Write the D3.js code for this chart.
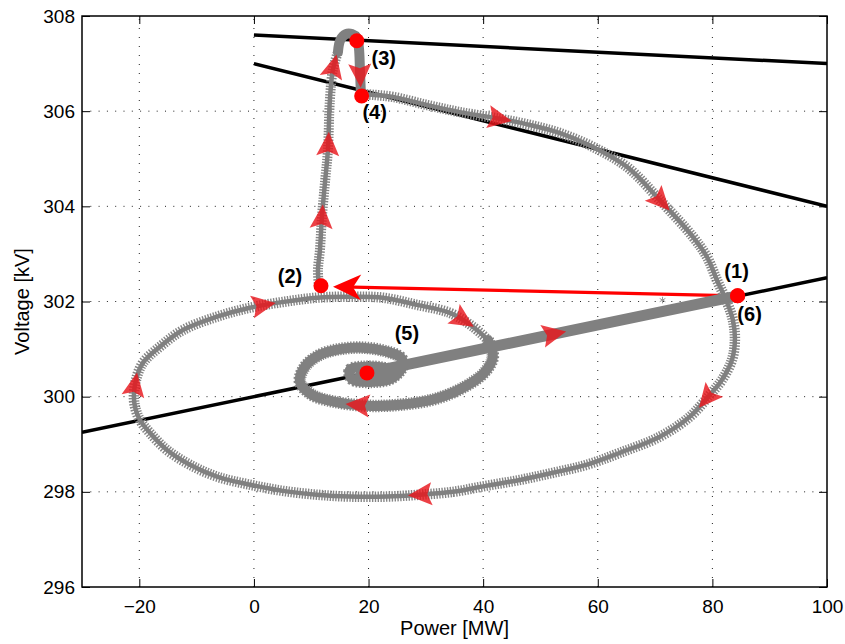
<!DOCTYPE html>
<html>
<head>
<meta charset="utf-8">
<script src="https://cdn.jsdelivr.net/npm/d3@7"></script>
<style>
  body { margin: 0; background: #fff; }
  svg { display: block; }
  text { font-family: "Liberation Sans", Arial, Helvetica, sans-serif; }
</style>
</head>
<body>
<svg id="chart" width="845" height="644"></svg>
<script>
// ---- axis ticks ----
const xTicks = [-20, 0, 20, 40, 60, 80, 100];
const yTicks = [296, 298, 300, 302, 304, 306, 308];

// ---- operating limit lines, [P (MW), V (kV)] ----
const upperLimit = [[0, 307.6], [100, 307.0]];
const lowerLimit = [[0, 307.0], [100, 304.0]];
const droopLine  = [[-30, 299.25], [100, 302.5]];

// ---- trajectory, [P (MW), V (kV)] ----
// (2) -> climb towards (3)
const climb = [
  [11.34, 302.33], [11.17, 302.66], [11.52, 303.08], [11.87, 303.78],
  [12.39, 304.49], [12.91, 305.18], [13.26, 306.24], [13.78, 306.87],
  [14.66, 307.24]
];
// over the top through (3) and down to (4)
const peak = [
  [14.66, 307.24], [15.10, 307.50], [16.05, 307.62], [17.10, 307.62],
  [17.97, 307.54], [18.32, 307.33], [18.50, 306.87], [18.67, 306.36]
];
// (4) -> large clockwise sweep
const sweep = [
  [18.67, 306.36], [21.11, 306.34], [24.25, 306.30], [30.19, 306.13],
  [35.94, 305.98], [42.92, 305.84], [48.16, 305.71], [53.39, 305.54],
  [59.15, 305.25], [65.09, 304.83], [70.84, 304.13], [76.60, 303.36],
  [79.04, 302.94], [80.79, 302.45], [82.53, 301.99], [83.58, 301.61],
  [83.93, 301.19], [83.41, 300.77], [81.66, 300.35], [79.57, 300.04],
  [76.08, 299.58], [70.84, 299.16], [63.86, 298.82], [58.10, 298.57],
  [52.17, 298.40], [46.41, 298.25], [40.66, 298.13], [34.72, 298.00],
  [28.97, 297.94], [23.21, 297.90], [16.75, 297.90], [10.99, 297.94],
  [5.06, 298.02], [-0.70, 298.15], [-6.46, 298.32], [-11.17, 298.57],
  [-15.18, 298.88], [-18.15, 299.24], [-19.89, 299.51], [-20.76, 299.79],
  [-20.94, 300.04], [-20.59, 300.35], [-19.37, 300.71], [-16.40, 301.05],
  [-12.39, 301.40], [-6.46, 301.68], [-0.70, 301.87], [5.06, 301.99],
  [10.99, 302.08], [16.75, 302.10], [22.51, 302.08], [28.44, 301.93],
  [34.20, 301.76], [38.21, 301.47], [40.83, 301.19]
];
// tightening spiral into (5)
const spiral = [
  [40.83, 301.19], [41.70, 300.84], [40.31, 300.52], [36.82, 300.21],
  [31.58, 299.95], [25.48, 299.83], [19.72, 299.81], [14.13, 299.89],
  [10.12, 300.04], [8.03, 300.31], [8.90, 300.63], [11.52, 300.88],
  [15.01, 301.00], [19.02, 301.03], [22.86, 300.96], [25.65, 300.82],
  [26.00, 300.65], [24.08, 300.39], [20.24, 300.31], [17.10, 300.37],
  [16.75, 300.56], [19.37, 300.63], [23.38, 300.58], [24.60, 300.48],
  [21.99, 300.39], [18.50, 300.46], [19.72, 300.50]
];
// (5) -> (6) along the droop line
const settle = [[19.72, 300.50], [84.40, 302.12]];
// single sample during the fast jump (1) -> (2)
const jumpSample = [[71.3, 302.03]];

// ---- jump arrow (1) -> (2) ----
const jump = [[84.40, 302.12], [13.80, 302.31]];

// ---- marked states ----
const stateLabels = ["(1)", "(2)", "(3)", "(4)", "(5)", "(6)"];
const stateP = [84.40, 11.70, 17.95, 18.80, 19.72, 84.40];
const stateV = [302.12, 302.33, 307.48, 306.32, 300.50, 302.12];

// ---- direction arrows along the trajectory ----
const arrowP = [42.92, 70.84, 79.04, 28.97, -20.42, 1.74, 36.82, 18.15, 52.52, 12.04, 13.61, 14.20, 18.50];
const arrowV = [305.92, 304.07, 299.97, 297.98, 300.25, 301.86, 301.66, 299.83, 301.26, 303.78, 305.29, 306.93, 306.76];

// ================= drawing =================
const svg = d3.select("#chart");
const plot = { left: 82, top: 16, right: 827, bottom: 587 };
const x = d3.scaleLinear().domain([-30, 100]).range([plot.left, plot.right]);
const y = d3.scaleLinear().domain([296, 308]).range([plot.bottom, plot.top]);
const pw = plot.right - plot.left, ph = plot.bottom - plot.top;

svg.append("rect").attr("width", 845).attr("height", 644).attr("fill", "#fff");

// dotted grid
const grid = svg.append("g");
grid.selectAll("line.gx").data(xTicks.filter(t => t > -30 && t < 100)).join("line")
  .attr("x1", d => x(d)).attr("x2", d => x(d))
  .attr("y1", plot.bottom).attr("y2", plot.top)
  .attr("stroke", "#222").attr("stroke-width", 1).attr("stroke-dasharray", "1,8");
grid.selectAll("line.gy").data(yTicks.filter(t => t > 296 && t < 308)).join("line")
  .attr("y1", d => y(d)).attr("y2", d => y(d))
  .attr("x1", plot.left).attr("x2", plot.right)
  .attr("stroke", "#222").attr("stroke-width", 1).attr("stroke-dasharray", "1,7.3");

svg.append("clipPath").attr("id", "clip")
  .append("rect").attr("x", plot.left).attr("y", plot.top).attr("width", pw).attr("height", ph);

const content = svg.append("g").attr("clip-path", "url(#clip)");

const straight = d3.line().x(d => x(d[0])).y(d => y(d[1]));
const smooth = d3.line().x(d => x(d[0])).y(d => y(d[1])).curve(d3.curveCatmullRom.alpha(0.5));

// limit lines
[upperLimit, lowerLimit, droopLine].forEach(seg => {
  content.append("path").attr("d", straight(seg))
    .attr("fill", "none").attr("stroke", "#000").attr("stroke-width", 3.5);
});

// jump line (under the trajectory)
const jx0 = x(jump[0][0]), jy0 = y(jump[0][1]);
const jx1 = x(jump[1][0]), jy1 = y(jump[1][1]);
const jAng = Math.atan2(jy1 - jy0, jx1 - jx0);
const headLen = 28;
content.append("line")
  .attr("x1", jx0).attr("y1", jy0)
  .attr("x2", jx1 - Math.cos(jAng) * (headLen - 8)).attr("y2", jy1 - Math.sin(jAng) * (headLen - 8))
  .attr("stroke", "#ff0000").attr("stroke-width", 3.2);

// trajectory: sparse parts show asterisk-like teeth, dense parts are solid
const gray = "#808080";
const pieces = [];
function drawPiece(data, core, teeth) {
  if (teeth > 0) {
    content.append("path").attr("d", smooth(data)).attr("fill", "none")
      .attr("stroke", "#858585").attr("stroke-width", teeth)
      .attr("stroke-dasharray", "1.4,1.4");
  }
  const p = content.append("path").attr("d", smooth(data)).attr("fill", "none")
    .attr("stroke", gray).attr("stroke-width", core)
    .attr("stroke-linejoin", "round").attr("stroke-linecap", "round");
  pieces.push(p.node());
}
drawPiece(climb, 4.5, 10);
drawPiece(sweep, 4.5, 10.5);
drawPiece(spiral, 10, 12.5);
drawPiece(peak, 10, 0);
drawPiece(settle, 11, 0);

// lone sample on the jump
content.selectAll("path.sample").data(jumpSample).join("path")
  .attr("transform", d => `translate(${x(d[0])},${y(d[1])})`)
  .attr("d", d3.symbol(d3.symbolAsterisk, 30)())
  .attr("fill", "none").attr("stroke", "#999").attr("stroke-width", 1);

// direction arrows: snapped to the trajectory and aligned with its tangent
function nearestOnPath(px, py) {
  let best = null;
  pieces.forEach(node => {
    const L = node.getTotalLength();
    for (let l = 0; l <= L; l += 1) {
      const pt = node.getPointAtLength(l);
      const dd = (pt.x - px) ** 2 + (pt.y - py) ** 2;
      if (!best || dd < best.dd) best = { dd, node, l, L, pt };
    }
  });
  const a = best.node.getPointAtLength(Math.max(0, best.l - 3));
  const b = best.node.getPointAtLength(Math.min(best.L, best.l + 3));
  return { x: best.pt.x, y: best.pt.y, ang: Math.atan2(b.y - a.y, b.x - a.x) * 180 / Math.PI };
}
const arrowShape = "M12.5,0 L-11.5,-11.5 L-7,0 L-11.5,11.5 Z";
const arrows = arrowP.map((p, i) => nearestOnPath(x(p), y(arrowV[i])));
content.selectAll("path.dir").data(arrows).join("path")
  .attr("d", arrowShape)
  .attr("transform", d => `translate(${d.x},${d.y}) rotate(${d.ang})`)
  .attr("fill", "#e8161c").attr("fill-opacity", 0.82);

// jump arrow head
content.append("path")
  .attr("d", `M0,0 L${-headLen},-13 L${-headLen + 8},0 L${-headLen},13 Z`)
  .attr("transform", `translate(${jx1},${jy1}) rotate(${jAng * 180 / Math.PI})`)
  .attr("fill", "#ff0000");

// state markers
const states = stateLabels.map((s, i) => ({ label: s, p: stateP[i], v: stateV[i] }));
content.selectAll("circle.state").data(states).join("circle")
  .attr("cx", d => x(d.p)).attr("cy", d => y(d.v)).attr("r", 7.5)
  .attr("fill", "#ff0000");

// state labels
const labelOffset = { "(1)": [-1, -25], "(2)": [-31, -10], "(3)": [27, 17],
                      "(4)": [13, 16], "(5)": [40, -40], "(6)": [12, 18] };
svg.selectAll("text.state").data(states).join("text")
  .attr("x", d => x(d.p) + labelOffset[d.label][0])
  .attr("y", d => y(d.v) + labelOffset[d.label][1])
  .attr("text-anchor", "middle").attr("dominant-baseline", "central")
  .attr("font-size", 20).attr("font-weight", "bold").attr("fill", "#000")
  .text(d => d.label);

// axes: ticks point inward on all four sides
const fmt = d3.format("d");
const axB = svg.append("g").attr("transform", `translate(0,${plot.bottom})`)
  .call(d3.axisBottom(x).tickValues(xTicks).tickSizeInner(-8).tickSizeOuter(0).tickPadding(10).tickFormat(fmt));
const axT = svg.append("g").attr("transform", `translate(0,${plot.top})`)
  .call(d3.axisTop(x).tickValues(xTicks).tickSizeInner(-8).tickSizeOuter(0).tickFormat(""));
const axL = svg.append("g").attr("transform", `translate(${plot.left},0)`)
  .call(d3.axisLeft(y).tickValues(yTicks).tickSizeInner(-8).tickSizeOuter(0).tickPadding(7).tickFormat(fmt));
const axR = svg.append("g").attr("transform", `translate(${plot.right},0)`)
  .call(d3.axisRight(y).tickValues(yTicks).tickSizeInner(-8).tickSizeOuter(0).tickFormat(""));
[axB, axT, axL, axR].forEach(g => {
  g.select(".domain").remove();
  g.selectAll(".tick line").attr("stroke", "#000").attr("stroke-width", 1);
  g.selectAll(".tick text").attr("font-size", 19).attr("fill", "#000")
    .attr("font-family", "Liberation Sans, Arial, sans-serif");
});
axB.selectAll(".tick text").attr("dy", "0.85em");

svg.append("rect").attr("x", plot.left).attr("y", plot.top).attr("width", pw).attr("height", ph)
  .attr("fill", "none").attr("stroke", "#000").attr("stroke-width", 1.5);

// axis titles
svg.append("text").attr("x", (plot.left + plot.right) / 2).attr("y", 635)
  .attr("text-anchor", "middle").attr("font-size", 20).text("Power [MW]");
svg.append("text").attr("transform", `translate(29,${(plot.top + plot.bottom) / 2}) rotate(-90)`)
  .attr("text-anchor", "middle").attr("font-size", 20).text("Voltage [kV]");
</script>
</body>
</html>
